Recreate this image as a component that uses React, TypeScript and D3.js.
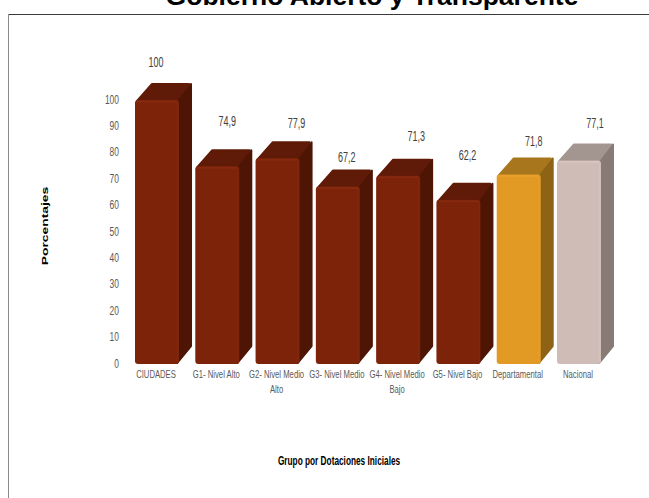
import { useEffect, useRef } from 'react';
import * as d3 from 'd3';

const categories = ['CIUDADES', 'G1- Nivel Alto', 'G2- Nivel Medio Alto', 'G3- Nivel Medio', 'G4- Nivel Medio Bajo', 'G5- Nivel Bajo', 'Departamental', 'Nacional'];
const values = [100, 74.9, 77.9, 67.2, 71.3, 62.2, 71.8, 77.1];
const yTicks = [0, 10, 20, 30, 40, 50, 60, 70, 80, 90, 100];

// the value labels were placed by hand in the original, so they do not sit centred
const labelShiftX = [-1, 10, 19, 9, 18, 9, 15, 16];
const labelShiftY = [-38, -45, -35, -30, -40, -45, -33, -37];

const palette = [
  { front: '#7d2309', top: '#5f1b07', side: '#4e1505', edge: '#93331a' },
  { front: '#e39a25', top: '#a8761c', side: '#8f6315', edge: '#f0ab38' },
  { front: '#d0bcb6', top: '#a3958f', side: '#887b76', edge: '#e0d0cb' },
];
const colorIndex = [0, 0, 0, 0, 0, 0, 1, 2];

const WIDTH = 649;
const HEIGHT = 498;
const DEPTH_X = 13;
const DEPTH_Y = 17;
const SANS = '"Liberation Sans", Arial, sans-serif';

export default function App() {
  const svgRef = useRef<SVGSVGElement>(null);

  useEffect(() => {
    if (!svgRef.current) return;
    const svg = d3.select(svgRef.current);
    svg.selectAll('*').remove();

    const x = d3.scaleBand<string>().domain(categories).range([135, 601]).paddingInner(0.27);
    const y = d3.scaleLinear().domain([0, 100]).range([364, 100]);

    // The original text is squeezed sideways, so each label gets its own x scale
    const squeezed = (tx: number, ty: number, sx: number, font: string, fill: string) =>
      svg.append('text')
        .attr('transform', `translate(${tx},${ty}) scale(${sx},1)`)
        .attr('text-anchor', 'middle')
        .attr('fill', fill)
        .style('font', font);

    // Frame
    svg.append('line').attr('x1', 8).attr('x2', WIDTH).attr('y1', 14.5).attr('y2', 14.5).attr('stroke', '#3a3a3a').attr('stroke-width', 1);
    svg.append('line').attr('x1', 8.5).attr('x2', 8.5).attr('y1', 14).attr('y2', HEIGHT).attr('stroke', '#8a8a8a').attr('stroke-width', 1);

    // Title, cut off by the top of the page as in the original
    svg.append('text')
      .attr('x', 372)
      .attr('y', 5)
      .attr('text-anchor', 'middle')
      .style('font', `bold 26.5px ${SANS}`)
      .text('Gobierno Abierto y Transparente');

    // Y axis
    const yAxis = d3.axisLeft(y).tickValues(yTicks).tickSize(0).tickPadding(0).tickFormat(d => `${d}`);
    const axisG = svg.append('g').attr('transform', 'translate(119,-1)').call(yAxis);
    axisG.select('.domain').remove();
    axisG.selectAll('text')
      .attr('transform', 'scale(0.65,1)')
      .attr('fill', '#595959')
      .style('font', `13px ${SANS}`);

    // Bars
    const bars = svg.selectAll('g.bar')
      .data(categories)
      .join('g')
      .attr('class', 'bar');

    bars.each(function (name, i) {
      const g = d3.select(this);
      const c = palette[colorIndex[i]];
      const left = x(name)!;
      const right = left + x.bandwidth();
      const top = y(values[i]);
      const bottom = y(0);
      const poly = d3.line();

      // side face, inset by 1 so the round stroke gives the soft corners
      g.append('path')
        .attr('d', poly([[right - 3, top + 1], [right + DEPTH_X - 1, top - DEPTH_Y + 1], [right + DEPTH_X - 1, bottom - DEPTH_Y - 1], [right - 2, bottom - 1]]) + 'Z')
        .attr('fill', c.side)
        .attr('stroke', c.side)
        .attr('stroke-width', 2)
        .attr('stroke-linejoin', 'round');
      // top face
      g.append('path')
        .attr('d', poly([[left + 2, top + 1], [left + DEPTH_X + 4, top - DEPTH_Y + 1], [right + DEPTH_X - 3, top - DEPTH_Y + 1], [right - 3, top + 1]]) + 'Z')
        .attr('fill', c.top)
        .attr('stroke', c.top)
        .attr('stroke-width', 2)
        .attr('stroke-linejoin', 'round');
      // front face
      g.append('rect')
        .attr('x', left)
        .attr('y', top)
        .attr('width', x.bandwidth())
        .attr('height', bottom - top)
        .attr('rx', 3)
        .attr('fill', c.front);
      // soft highlights along the top and right of the front face
      g.append('line')
        .attr('x1', left + 2)
        .attr('x2', right - 2)
        .attr('y1', top + 1.5)
        .attr('y2', top + 1.5)
        .attr('stroke', c.edge)
        .attr('stroke-opacity', 0.4)
        .attr('stroke-width', 2);
      g.append('line')
        .attr('x1', right - 1.5)
        .attr('x2', right - 1.5)
        .attr('y1', top + 2)
        .attr('y2', bottom - 2)
        .attr('stroke', c.edge)
        .attr('stroke-opacity', 0.2)
        .attr('stroke-width', 2);
    });

    // Value labels
    values.forEach((v, i) => {
      squeezed(
        x(categories[i])! + x.bandwidth() / 2 + labelShiftX[i],
        y(v) + labelShiftY[i] + 5,
        0.62,
        `14.5px ${SANS}`,
        '#404040',
      ).text(`${v}`.replace('.', ','));
    });

    // Category labels, wrapped on two lines where the original wraps
    const wrapped: Record<string, string[]> = {
      'G2- Nivel Medio Alto': ['G2- Nivel Medio', 'Alto'],
      'G4- Nivel Medio Bajo': ['G4- Nivel Medio', 'Bajo'],
    };
    categories.forEach(name => {
      const lines = wrapped[name] ?? [name];
      lines.forEach((line, k) => {
        squeezed(x(name)! + x.bandwidth() / 2 - 1, 378 + k * 14.5, 0.7, `11px ${SANS}`, '#595959').text(line);
      });
    });

    // Axis titles
    svg.append('text')
      .attr('transform', 'translate(48,226) rotate(-90) scale(1.63,1)')
      .attr('text-anchor', 'middle')
      .style('font', `bold 8.5px ${SANS}`)
      .text('Porcentajes');

    squeezed(339, 465, 0.69, `bold 12px ${SANS}`, '#000').text('Grupo por Dotaciones Iniciales');
  }, []);

  return <svg ref={svgRef} width={WIDTH} height={HEIGHT} style={{ position: 'absolute', left: 0, top: 0, background: '#fff' }} />;
}
